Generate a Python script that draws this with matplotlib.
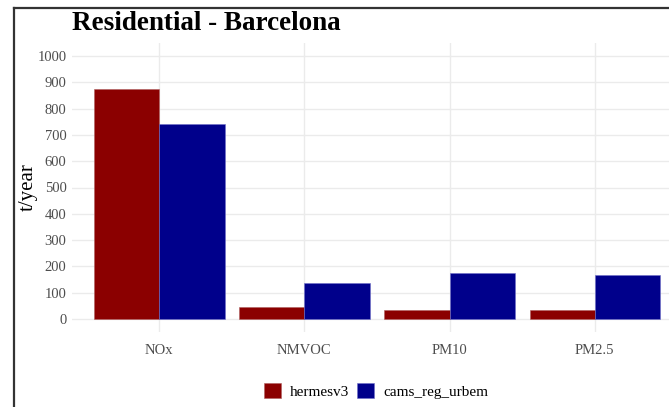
import numpy as np
import matplotlib
matplotlib.use("Agg")
import matplotlib.pyplot as plt
from matplotlib.lines import Line2D
from matplotlib.patches import Patch

pollutants = ["NOx", "NMVOC", "PM10", "PM2.5"]
hermesv3 = [875, 47, 35, 35]
cams_reg_urbem = [742, 136, 173, 167]
y_ticks = [0, 100, 200, 300, 400, 500, 600, 700, 800, 900, 1000]

RED = "#8B0000"
BLUE = "#00008B"
GRID = "#EBEBEB"
TICK = "#4D4D4D"

plt.rcParams["font.family"] = ["Liberation Serif", "DejaVu Serif"]

W, H = 669, 407
fig = plt.figure(figsize=(W / 100, H / 100), dpi=100)
# panel runs slightly past the right edge of the canvas
ax = fig.add_axes([72 / W, 1 - 332 / H, (682 - 72) / W, (332 - 43) / H])

x = np.arange(1, len(pollutants) + 1)
w = 0.45
ax.bar(x - w / 2, hermesv3, width=w, color=RED, edgecolor="#b06060", linewidth=0.4, zorder=3)
ax.bar(x + w / 2, cams_reg_urbem, width=w, color=BLUE, edgecolor="#7070c8", linewidth=0.4, zorder=3)

ax.set_xlim(0.4, 4.6)
ax.set_ylim(-50, 1050)
ax.set_xticks(x)
ax.set_xticklabels(pollutants)
ax.set_yticks(y_ticks)
ax.tick_params(axis="both", length=0, labelsize=10.5, labelcolor=TICK)
ax.tick_params(axis="x", pad=9)
ax.tick_params(axis="y", pad=4)
ax.grid(True, color=GRID, linewidth=1.0, zorder=0)
for s in ax.spines.values():
    s.set_visible(False)

ax.set_ylabel("t/year", fontsize=15, color="black")
ax.yaxis.set_label_coords((38 - 72) / 610, 0.5)
fig.text(72 / W, 1 - 30 / H, "Residential - Barcelona", fontsize=19.5,
         fontweight="bold", ha="left", va="baseline")

handles = [Patch(facecolor=RED, edgecolor="#b06060", linewidth=0.4),
           Patch(facecolor=BLUE, edgecolor="#7070c8", linewidth=0.4)]
fig.legend(handles, ["hermesv3", "cams_reg_urbem"], loc="center",
           bbox_to_anchor=(376 / W, 1 - 391 / H), ncol=2, frameon=False,
           fontsize=11, handlelength=1.1, handleheight=1.1,
           handletextpad=0.6, columnspacing=0.5)

# outer frame on the left and top
fig.add_artist(Line2D([14 / W, 14 / W], [0, 1 - 8 / H], color="#333333", linewidth=1.6))
fig.add_artist(Line2D([14 / W, 1], [1 - 8 / H, 1 - 8 / H], color="#333333", linewidth=1.6))

fig.savefig("out.png", dpi=100)
